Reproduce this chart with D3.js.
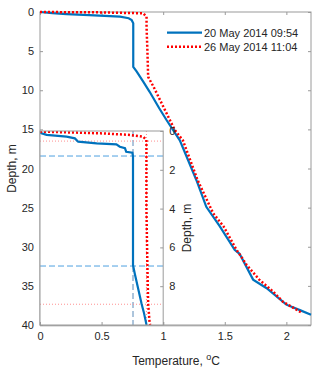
<!DOCTYPE html>
<html><head><meta charset="utf-8">
<script src="https://cdn.jsdelivr.net/npm/d3@7"></script>
<style>body{margin:0;background:#fff;} text{font-family:"Liberation Sans",Arial,sans-serif;fill:#262626;}</style>
</head><body>
<svg id="c" width="320" height="374"></svg>
<script>
// ---- data ----
const legendLabels = ["20 May 2014 09:54", "26 May 2014 11:04"];
// main profiles: [temperature, depth]
const blueMain = [[0,0],[0.1,0.15],[0.216,0.26],[0.4,0.4],[0.65,0.6],[0.72,0.8],[0.744,1.02],[0.757,1.45],[0.757,7.0],[0.784,7.6],[0.838,8.9],[0.89,10.2],[0.968,12.3],[1.027,13.8],[1.135,16.4],[1.27,21.5],[1.35,24.9],[1.46,27.4],[1.58,30.4],[1.62,30.9],[1.73,34.2],[1.84,35.3],[2.0,37.4],[2.11,38.1],[2.2,38.7]];
const redMain = [[0,0],[0.5,0.05],[0.838,0.17],[0.865,0.6],[0.865,1.9],[0.872,5],[0.878,8.3],[0.92,9.5],[0.973,11.2],[1.054,13.8],[1.095,15.1],[1.16,16.4],[1.28,21.5],[1.405,25.7],[1.49,27.4],[1.595,30.4],[1.635,31.3],[1.676,32.3],[1.78,34.2],[1.89,35.7],[1.97,37],[2.11,38.3],[2.13,38.5]];
// inset (top 10 m)
const blueInset = [[0,0.09],[0.054,0.2],[0.216,0.29],[0.283,0.38],[0.31,0.55],[0.46,0.64],[0.62,0.69],[0.648,0.81],[0.69,0.89],[0.70,1.07],[0.75,1.12],[0.755,1.32],[0.755,6.9],[0.77,7.37],[0.825,8.92],[0.843,9.35],[0.865,10]];
const redInset = [[0,0.03],[0.49,0.12],[0.73,0.2],[0.837,0.29],[0.864,0.46],[0.864,4],[0.872,7],[0.878,8.9],[0.89,9.9],[0.895,10]];
// reference lines in inset
const blueDashDepths = [1.29, 6.96];
const blueDashTemp = 0.755;
const redDotDepths = [0.52, 8.93];
const redDotTemp = 0.864;
// ticks
const xTicks = [0, 0.5, 1, 1.5, 2];
const yTicks = [0, 5, 10, 15, 20, 25, 30, 35, 40];
const insetYTicks = [0, 2, 4, 6, 8];

// ---- layout ----
const svg = d3.select("#c");
const L = 40, R = 311, T = 12, B = 325;
const x = d3.scaleLinear().domain([0, 2.2]).range([L, R]);
const y = d3.scaleLinear().domain([0, 40]).range([T, B]);
const IL = 40, IR = x(1), IT = 131, IB = 325;
const xi = d3.scaleLinear().domain([0, 1]).range([IL, IR]);
const yi = d3.scaleLinear().domain([0, 10]).range([IT, IB]);

const BLUE = "#0072BD", RED = "#FF0000", AX = "#9a9a9a";
const tl = 3;

// main axes
svg.append("rect").attr("x", L).attr("y", T).attr("width", R - L).attr("height", B - T)
  .attr("fill", "#fff").attr("stroke", AX).attr("stroke-width", 1);
const gx = svg.append("g").attr("transform", `translate(0,${B})`)
  .call(d3.axisBottom(x).tickValues(xTicks).tickSize(-tl).tickPadding(7).tickFormat(d3.format("")));
const gxt = svg.append("g").attr("transform", `translate(0,${T})`)
  .call(d3.axisTop(x).tickValues(xTicks).tickSize(-tl).tickFormat(""));
const gy = svg.append("g").attr("transform", `translate(${L},0)`)
  .call(d3.axisLeft(y).tickValues(yTicks).tickSize(-tl).tickPadding(6));
const gyr = svg.append("g").attr("transform", `translate(${R},0)`)
  .call(d3.axisRight(y).tickValues(yTicks).tickSize(-tl).tickFormat(""));
[gx, gxt, gy, gyr].forEach(g => {
  g.select(".domain").remove();
  g.selectAll(".tick line").attr("stroke", AX);
  g.selectAll("text").attr("font-size", 11).attr("fill", "#262626");
});

const line = (sx, sy) => d3.line().x(d => sx(d[0])).y(d => sy(d[1]));

svg.append("path").datum(blueMain).attr("d", line(x, y)).attr("fill", "none")
  .attr("stroke", BLUE).attr("stroke-width", 2.2);
svg.append("path").datum(redMain).attr("d", line(x, y)).attr("fill", "none")
  .attr("stroke", RED).attr("stroke-width", 2.5).attr("stroke-dasharray", "2,2");

// legend
legendLabels.forEach((lab, i) => {
  const ly = 32.7 + i * 14;
  svg.append("line").attr("x1", 167).attr("x2", 202).attr("y1", ly).attr("y2", ly)
    .attr("stroke", i ? RED : BLUE).attr("stroke-width", i ? 2.5 : 2.2)
    .attr("stroke-dasharray", i ? "2,2" : null);
  svg.append("text").attr("x", 204).attr("y", ly + 4).attr("font-size", 11).text(lab);
});

// axis labels
const xl = svg.append("text").attr("x", 176).attr("y", 365).attr("text-anchor", "middle").attr("font-size", 12);
xl.append("tspan").text("Temperature, ");
xl.append("tspan").attr("dy", -5).attr("font-size", 9).text("o");
xl.append("tspan").attr("dy", 5).text("C");
svg.append("text").attr("transform", `translate(16,${(T + B) / 2}) rotate(-90)`)
  .attr("text-anchor", "middle").attr("font-size", 12).text("Depth, m");

// inset
const ig = svg.append("g");
ig.append("rect").attr("x", IL).attr("y", IT).attr("width", IR - IL).attr("height", IB - IT)
  .attr("fill", "#fff");
svg.append("clipPath").attr("id", "ic").append("rect")
  .attr("x", IL).attr("y", IT).attr("width", IR - IL).attr("height", IB - IT);
const ic = ig.append("g").attr("clip-path", "url(#ic)");

blueDashDepths.forEach(d => ic.append("line").attr("x1", IL).attr("x2", IR)
  .attr("y1", yi(d)).attr("y2", yi(d)).attr("stroke", "#4DA0E0").attr("stroke-width", 1)
  .attr("stroke-dasharray", "6,3"));
ic.append("line").attr("x1", xi(blueDashTemp)).attr("x2", xi(blueDashTemp))
  .attr("y1", IT).attr("y2", IB).attr("stroke", "#5a8ab8").attr("stroke-width", 1)
  .attr("stroke-dasharray", "6,3");
redDotDepths.forEach(d => ic.append("line").attr("x1", IL).attr("x2", IR)
  .attr("y1", yi(d)).attr("y2", yi(d)).attr("stroke", "#FF9090").attr("stroke-width", 1)
  .attr("stroke-dasharray", "1,2"));
ic.append("line").attr("x1", xi(redDotTemp)).attr("x2", xi(redDotTemp))
  .attr("y1", IT).attr("y2", IB).attr("stroke", "#FF9090").attr("stroke-width", 1)
  .attr("stroke-dasharray", "1,2");

ic.append("path").datum(blueInset).attr("d", line(xi, yi)).attr("fill", "none")
  .attr("stroke", BLUE).attr("stroke-width", 2.2);
ic.append("path").datum(redInset).attr("d", line(xi, yi)).attr("fill", "none")
  .attr("stroke", RED).attr("stroke-width", 2.5).attr("stroke-dasharray", "2,2");

ig.append("rect").attr("x", IL).attr("y", IT).attr("width", IR - IL).attr("height", IB - IT)
  .attr("fill", "none").attr("stroke", AX).attr("stroke-width", 1);
const giy = ig.append("g").attr("transform", `translate(${IR},0)`)
  .call(d3.axisRight(yi).tickValues(insetYTicks).tickSize(-tl).tickPadding(6));
const gib = ig.append("g").attr("transform", `translate(0,${IB})`)
  .call(d3.axisBottom(xi).tickValues([0, 0.5, 1]).tickSize(-tl).tickFormat(""));
[giy, gib].forEach(g => {
  g.select(".domain").remove();
  g.selectAll(".tick line").attr("stroke", AX);
  g.selectAll("text").attr("font-size", 11).attr("fill", "#262626");
});
ig.append("line").attr("x1", L).attr("x2", R).attr("y1", B + 0.8).attr("y2", B + 0.8)
  .attr("stroke", AX).attr("stroke-width", 1);
svg.append("text").attr("transform", `translate(191,${(IT + IB) / 2}) rotate(-90)`)
  .attr("text-anchor", "middle").attr("font-size", 12).text("Depth, m");
</script>
</body></html>
